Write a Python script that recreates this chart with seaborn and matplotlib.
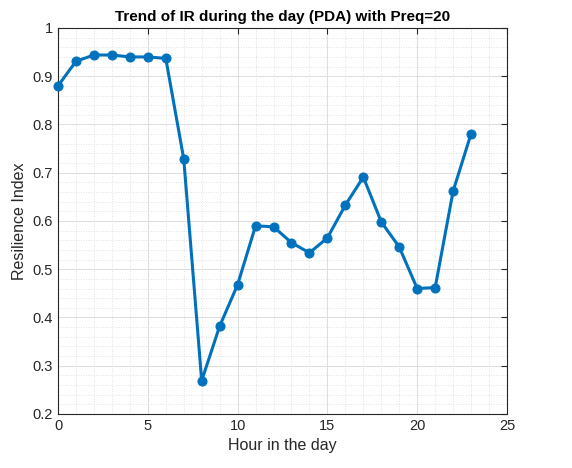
import matplotlib
matplotlib.use("Agg")
import matplotlib.pyplot as plt
import seaborn as sns
import pandas as pd
from matplotlib.ticker import MultipleLocator

hours = list(range(24))
resilience = [0.880, 0.931, 0.944, 0.944, 0.940, 0.940, 0.937, 0.729, 0.269,
              0.382, 0.468, 0.590, 0.588, 0.555, 0.534, 0.565, 0.633, 0.691,
              0.598, 0.546, 0.460, 0.462, 0.662, 0.781]
x_ticks = [0, 5, 10, 15, 20, 25]
y_ticks = [0.2, 0.3, 0.4, 0.5, 0.6, 0.7, 0.8, 0.9, 1.0]
y_tick_labels = ["0.2", "0.3", "0.4", "0.5", "0.6", "0.7", "0.8", "0.9", "1"]

df = pd.DataFrame({"hour": hours, "ir": resilience})

sns.set_style("white")
plt.rcParams['font.family'] = ['Liberation Sans', 'DejaVu Sans']

fig = plt.figure(figsize=(5.72, 4.68), dpi=100)
ax = fig.add_axes([0.1014, 0.1154, 0.7850, 0.8248])

sns.lineplot(data=df, x="hour", y="ir", ax=ax, color="#0072BD", linewidth=2.2,
             marker="o", markersize=6.5, markeredgecolor="#0072BD", zorder=3,
             clip_on=False)

ax.set_xlim(0, 25)
ax.set_ylim(0.2, 1.0)
ax.set_xticks(x_ticks)
ax.set_yticks(y_ticks)
ax.set_yticklabels(y_tick_labels)
ax.xaxis.set_minor_locator(MultipleLocator(1))
ax.yaxis.set_minor_locator(MultipleLocator(0.02))

ax.grid(which="major", color="#dcdcdc", linewidth=0.7, linestyle="-")
ax.grid(which="minor", color="#d8d8d8", linewidth=0.6, linestyle=(0, (1, 2)))
ax.set_axisbelow(True)

for s in ax.spines.values():
    s.set_color("#262626")
    s.set_linewidth(0.8)
ax.tick_params(which="both", direction="in", top=True, right=True,
               colors="#262626", labelsize=10.5)
ax.tick_params(which="major", length=4)
ax.tick_params(which="minor", length=0)
for lbl in ax.get_xticklabels() + ax.get_yticklabels():
    lbl.set_color("#262626")

ax.set_xlabel("Hour in the day", fontsize=11.5, color="#262626")
ax.set_ylabel("Resilience Index", fontsize=11.5, color="#262626")
ax.set_title("Trend of IR during the day (PDA) with Preq=20", fontsize=11,
             fontweight="bold", color="black", pad=5)

fig.savefig("out.png", dpi=100)
